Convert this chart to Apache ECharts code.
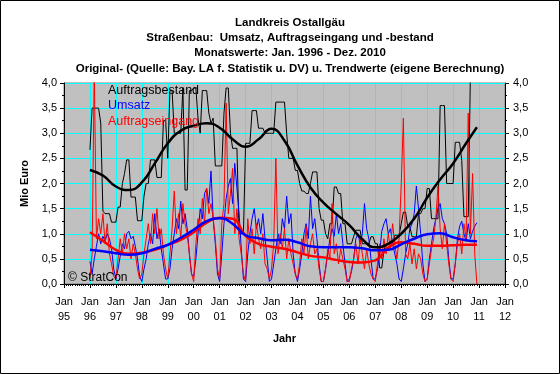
<!DOCTYPE html>
<html><head><meta charset="utf-8">
<script src="https://cdn.jsdelivr.net/npm/echarts@6/dist/echarts.min.js"></script>
<style>html,body{margin:0;padding:0;background:#fff}#c{width:560px;height:374px}</style>
</head><body><div id="c"></div><script>
// ---- data (Mio Euro, monthly Jan 1996 - Dec 2010) ----
const seriesNames = ['Auftragsbestand', 'Umsatz', 'Auftragseingang'];
const seriesColors = ['#000000', '#0000FF', '#FF0000'];
const startYear = 1996;
const bestand = [
  2.67,3.5,3.5,3.5,3.5,3.2,1.45,1.4,1.4,1.4,1.23,1.23,
  1.23,1.53,1.53,2.0,2.2,2.47,2.47,1.73,1.73,1.73,1.26,1.26,
  1.26,1.75,2.0,2.0,2.47,2.47,2.47,2.12,2.12,2.12,3.25,3.25,
  2.5,3.85,3.85,3.0,3.0,3.0,3.0,3.9,1.87,1.87,3.85,3.85,
  3.9,3.9,3.3,3.0,3.85,3.85,3.85,3.4,3.2,3.3,2.35,2.35,
  2.35,2.35,3.4,3.9,3.9,3.0,2.7,2.7,2.7,1.0,1.0,1.0,
  2.8,2.8,2.8,3.45,3.45,3.45,3.1,3.1,3.1,3.0,3.0,3.0,
  3.0,3.0,3.62,3.62,3.62,3.62,3.62,3.0,2.5,2.5,2.5,2.26,
  2.26,2.0,1.85,1.85,1.8,1.8,2.0,2.23,2.23,2.23,1.5,1.27,
  1.27,1.0,0.9,1.2,1.2,1.93,1.93,1.8,1.8,1.2,1.2,0.8,
  0.8,0.8,0.95,1.07,1.07,1.07,0.8,0.8,0.8,0.8,0.94,0.94,
  0.8,0.8,0.32,0.32,0.67,0.8,0.8,0.8,0.8,0.97,0.97,0.97,
  1.2,1.43,1.43,1.14,1.14,0.94,0.94,0.94,1.4,1.4,1.5,1.5,
  1.9,1.9,1.3,1.3,1.3,1.3,3.55,3.55,3.55,2.0,2.0,2.0,
  2.0,2.82,2.82,2.82,2.46,1.34,1.34,1.34,4.2,4.2,4.2,4.2
];
const umsatz = [
  0.45,0.2,0.5,0.75,1.0,0.8,0.95,0.85,1.0,0.9,0.7,0.3,
  0.1,0.3,0.55,0.8,0.7,1.0,1.05,0.9,0.95,0.75,0.5,0.15,
  0.05,0.3,0.5,0.8,1.0,0.8,1.4,0.9,1.1,0.7,0.4,0.1,
  0.1,0.3,0.7,1.0,1.3,1.1,1.65,1.2,1.4,1.1,0.6,0.2,
  0.15,0.5,1.0,1.5,1.3,1.8,1.9,1.6,2.25,1.3,0.8,0.2,
  0.05,0.6,1.2,1.7,1.95,2.1,1.6,2.4,1.9,1.4,0.7,0.1,
  0.05,0.6,1.0,1.3,1.5,1.1,1.3,1.0,1.4,0.9,0.5,0.05,
  0.1,0.4,0.7,1.0,0.8,1.3,1.1,1.75,1.2,1.4,0.6,0.2,
  0.05,0.3,0.6,1.0,1.2,0.9,1.75,1.1,1.3,0.9,0.4,0.05,
  0.05,0.3,0.6,0.9,1.1,0.95,1.4,1.0,1.2,0.8,0.4,0.05,
  0.1,0.25,0.5,0.9,1.0,0.8,1.0,1.6,1.1,0.9,0.5,0.1,
  0.1,0.3,0.6,1.05,1.2,1.3,1.0,1.1,0.8,0.6,0.4,0.1,
  0.05,0.3,0.6,0.8,1.1,1.2,1.4,1.95,1.5,1.0,0.4,0.05,
  0.1,0.5,0.8,1.1,1.3,1.5,1.6,1.3,1.2,1.0,0.5,0.1,
  0.1,0.4,0.9,1.15,1.25,1.0,0.85,1.2,0.9,1.05,1.15,1.22
];
const eingang = [
  0.1,0.6,4.3,0.9,1.3,1.0,1.4,0.8,1.2,0.6,0.4,0.15,
  0.1,0.5,0.9,0.6,1.0,0.7,0.9,0.5,0.8,0.6,0.3,0.1,
  0.2,0.6,0.9,1.2,0.8,1.4,1.0,1.5,0.9,1.1,0.6,0.3,
  0.1,0.6,1.1,1.85,1.0,1.4,0.9,1.6,1.2,1.0,0.6,0.2,
  0.05,0.8,1.3,1.0,1.7,1.2,1.9,1.4,1.6,1.3,0.9,0.3,
  0.1,1.2,1.6,3.6,1.4,1.8,2.3,1.0,1.5,0.9,0.6,0.2,
  0.05,1.3,0.8,1.1,0.6,1.2,0.9,0.7,1.0,0.4,0.3,0.1,
  0.3,0.8,2.5,0.6,1.0,0.7,1.1,0.5,0.9,0.6,0.4,0.2,
  0.1,0.4,0.9,0.6,1.15,0.5,0.8,1.0,0.6,0.7,0.3,0.05,
  0.05,0.3,0.7,0.5,1.6,0.6,0.8,0.4,0.7,0.5,0.3,0.05,
  0.05,0.3,0.5,0.8,0.4,0.9,0.6,0.3,0.7,0.4,0.2,0.1,
  0.05,0.4,0.8,0.5,0.9,0.6,1.0,0.7,1.2,0.8,0.5,0.9,
  2.0,3.3,0.6,0.5,0.8,0.4,0.7,0.3,0.6,0.5,0.2,0.05,
  0.1,0.4,0.7,0.9,1.3,1.95,1.1,0.7,1.2,0.8,0.4,0.1,
  0.05,0.4,0.8,1.0,0.6,1.2,0.9,3.4,1.0,2.2,0.6,0.0
];
// trend values read every half year (Jan/Jul) plus Dec 2010
const trendBestand = [2.27,2.16,1.94,1.87,2.02,2.40,2.80,3.05,3.15,3.20,3.11,2.88,2.73,2.88,3.09,2.85,2.36,1.92,1.62,1.39,1.17,0.89,0.73,0.80,1.00,1.30,1.72,2.08,2.40,2.80,3.12];
const trendUmsatz = [0.68,0.65,0.61,0.58,0.61,0.70,0.78,0.92,1.08,1.25,1.31,1.20,0.97,0.91,0.87,0.88,0.83,0.75,0.73,0.73,0.73,0.71,0.67,0.68,0.79,0.90,0.99,1.01,0.93,0.87,0.85];
const trendEingang = [1.03,0.86,0.68,0.60,0.62,0.68,0.78,0.88,1.03,1.22,1.32,1.30,0.96,0.80,0.74,0.70,0.63,0.56,0.53,0.48,0.44,0.43,0.47,0.72,0.83,0.80,0.76,0.76,0.77,0.78,0.78];
const xMin = 1995, xMax = 2012;

const FONT = '"Liberation Sans", Arial, sans-serif';
function monthly(arr){ return arr.map((v,i)=>[startYear + i/12, v]); }
function trend(arr){ return arr.map((v,i)=>[startYear + (i < arr.length-1 ? i*6 : 179)/12, v]); }
const fmtY = v => v.toFixed(1).replace('.', ',');

const chart = echarts.init(document.getElementById('c'), null, {renderer:'canvas'});
const yBase = {
  type:'value', min:0, max:4, interval:0.5,
  axisLine:{show:true, lineStyle:{color:'#000', width:1}},
  axisTick:{show:true, length:4, lineStyle:{color:'#000'}},
  minorTick:{show:true, splitNumber:2, length:2, lineStyle:{color:'#000'}},
  axisLabel:{formatter:fmtY, color:'#000', fontSize:11, fontFamily:FONT, margin:7}
};
chart.setOption({
  animation:false,
  backgroundColor:'#ffffff',
  grid:{left:64, right:55, top:83, bottom:90, show:true, backgroundColor:'#C0C0C0', borderColor:'#808080', borderWidth:1},
  graphic:[
    {type:'rect', silent:true, shape:{x:0.5, y:0.5, width:559, height:373}, style:{fill:null, stroke:'#000', lineWidth:1}},
    {type:'text', silent:true, style:{x:290, y:15, align:'center', verticalAlign:'top', lineHeight:15.3,
      text:'Landkreis Ostallgäu\nStraßenbau:  Umsatz, Auftragseingang und -bestand\nMonatswerte: Jan. 1996 - Dez. 2010\nOriginal- (Quelle: Bay. LA f. Statistik u. DV) u. Trendwerte (eigene Berechnung)',
      fill:'#000', fontSize:11.5, fontWeight:'bold', fontFamily:FONT}},
    {type:'text', silent:true, z:100, style:{x:68, y:278, align:'left', verticalAlign:'middle', text:'© StratCon', fill:'#000', fontSize:12, fontFamily:FONT}}
  ],
  legend:{orient:'vertical', left:98, top:79, z:20, itemWidth:0, itemHeight:0, itemGap:2.5, selectedMode:false,
    textStyle:{fontSize:12.5, fontFamily:FONT, lineHeight:13},
    data: seriesNames.map((n,i)=>({name:n, icon:'rect', textStyle:{color:seriesColors[i]}}))},
  xAxis:{type:'value', min:xMin, max:xMax, interval:1,
    axisLine:{show:true, onZero:false, lineStyle:{color:'#000'}},
    axisTick:{show:true, length:4, lineStyle:{color:'#000'}},
    minorTick:{show:true, splitNumber:12, length:2, lineStyle:{color:'#000'}},
    axisLabel:{formatter:v=>'Jan\n'+String(v).slice(2), color:'#000', fontSize:11, fontFamily:FONT, lineHeight:15, margin:10, showMinLabel:true, showMaxLabel:true},
    splitLine:{show:true, lineStyle:{color:'#00FFFF', width:1}},
    name:'Jahr', nameLocation:'middle', nameGap:49, nameTextStyle:{fontWeight:'bold', fontSize:11, color:'#000', fontFamily:FONT}},
  yAxis:[
    Object.assign({}, yBase, {position:'left',
      splitLine:{show:true, lineStyle:{color:'#00FFFF', width:1}},
      name:'Mio Euro', nameLocation:'middle', nameGap:28, nameRotate:90,
      nameTextStyle:{fontWeight:'bold', fontSize:11, color:'#000', fontFamily:FONT}}),
    Object.assign({}, yBase, {position:'right', splitLine:{show:false},
      axisLabel:{formatter:fmtY, color:'#000', fontSize:11, fontFamily:FONT, margin:8}})
  ],
  series:[
    {name:seriesNames[0], type:'line', data:monthly(bestand), symbol:'none', lineStyle:{color:seriesColors[0], width:1}, itemStyle:{color:seriesColors[0]}, z:2},
    {name:seriesNames[1], type:'line', data:monthly(umsatz), symbol:'none', lineStyle:{color:seriesColors[1], width:1}, itemStyle:{color:seriesColors[1]}, z:3},
    {name:seriesNames[2], type:'line', data:monthly(eingang), symbol:'none', lineStyle:{color:seriesColors[2], width:1}, itemStyle:{color:seriesColors[2]}, z:4},
    {name:'Trend Auftragseingang', type:'line', data:trend(trendEingang), smooth:0.5, symbol:'none', lineStyle:{color:seriesColors[2], width:2.5}, z:5},
    {name:'Trend Umsatz', type:'line', data:trend(trendUmsatz), smooth:0.5, symbol:'none', lineStyle:{color:seriesColors[1], width:2.5}, z:6},
    {name:'Trend Auftragsbestand', type:'line', data:trend(trendBestand), smooth:0.5, symbol:'none', lineStyle:{color:seriesColors[0], width:2.5}, z:7}
  ]
});
</script></body></html>
